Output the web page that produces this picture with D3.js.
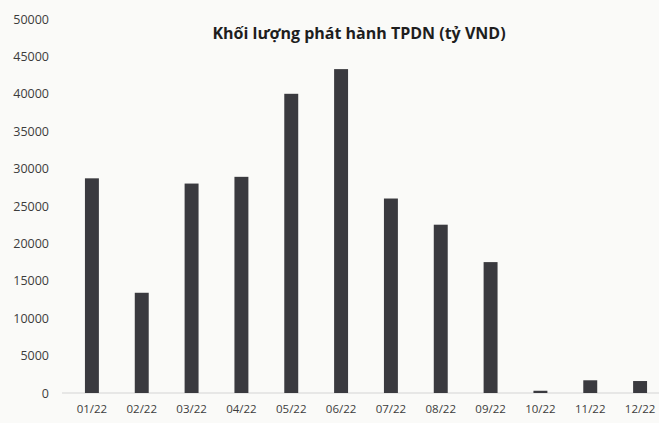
<!DOCTYPE html>
<html>
<head>
<meta charset="utf-8">
<script src="https://cdn.jsdelivr.net/npm/d3@7"></script>
<style>
  body { margin: 0; background: #fafaf8; }
  svg { display: block; }
</style>
</head>
<body>
<div id="chart"></div>
<script>
    var months = ["01/22", "02/22", "03/22", "04/22", "05/22", "06/22", "07/22", "08/22", "09/22", "10/22", "11/22", "12/22"];
    var volumes = [28700, 13400, 28000, 28900, 40000, 43300, 26000, 22500, 17500, 300, 1700, 1600];
    var yTicks = [0, 5000, 10000, 15000, 20000, 25000, 30000, 35000, 40000, 45000, 50000];
    var title = "Khối lượng phát hành TPDN (tỷ VND)";

    var width = 659,
        height = 423;

    var svg = d3.select("#chart").append("svg")
        .attr("width", width)
        .attr("height", height);

    var x = d3.scaleBand()
        .domain(months)
        .range([67, 665])
        .paddingInner(0.72)
        .paddingOuter(0.36);

    var y = d3.scaleLinear()
        .domain([0, 50000])
        .range([393, 19]);

    // faint baseline
    svg.append("line")
        .attr("x1", 62).attr("x2", width)
        .attr("y1", y(0)).attr("y2", y(0))
        .style("stroke", "#d4d4d4")
        .style("stroke-width", 1);

    var yAxis = svg.append("g")
        .attr("transform", "translate(49,0)")
        .call(d3.axisLeft(y).tickValues(yTicks).tickSize(0).tickPadding(0).tickFormat(d3.format("d")));
    yAxis.select(".domain").remove();
    yAxis.selectAll("text")
        .style("font-family", "'Open Sans', sans-serif")
        .style("font-size", "12.5px")
        .style("fill", "#3c3c3c");

    var xAxis = svg.append("g")
        .attr("transform", "translate(0," + 403 + ")")
        .call(d3.axisBottom(x).tickSize(0).tickPadding(2));
    xAxis.select(".domain").remove();
    xAxis.selectAll("text")
        .style("font-family", "'Open Sans', sans-serif")
        .style("font-size", "11.5px")
        .style("fill", "#3c3c3c");

    svg.selectAll(".bar")
        .data(volumes)
        .enter()
        .append("rect")
        .attr("class", "bar")
        .attr("x", (d, i) => x(months[i]))
        .attr("y", d => y(d))
        .attr("width", x.bandwidth())
        .attr("height", d => y(0) - y(d))
        .style("fill", "#3a3a3f");

    svg.append("text")
        .attr("x", 359)
        .attr("y", 39)
        .attr("text-anchor", "middle")
        .style("font-family", "'Open Sans', sans-serif")
        .style("font-weight", "bold")
        .style("font-size", "16px")
        .style("fill", "#1e1e1e")
        .text(title);
</script>
</body>
</html>
